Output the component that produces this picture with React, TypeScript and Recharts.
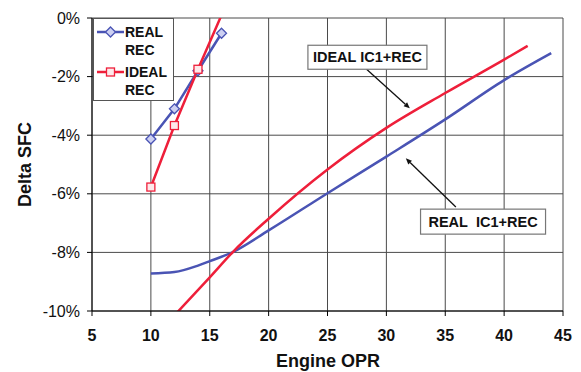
import React from 'react';
import {
  LineChart,
  Line,
  XAxis,
  YAxis,
  CartesianGrid,
  Legend,
  ReferenceLine,
  ReferenceDot,
} from 'recharts';

const FONT = '"Liberation Sans", Arial, Helvetica, sans-serif';
const BLUE = '#4A54B4';
const RED = '#EE1F3A';

// Axis ticks
const xTicks = [5, 10, 15, 20, 25, 30, 35, 40, 45];
const yTicks = [-10, -8, -6, -4, -2, 0];

// Legend order
const legendOrder = ['REAL REC', 'IDEAL REC'];

// Series: REAL REC
const realRecOPR = [10, 12, 14, 16];
const realRecSFC = [-4.13, -3.1, -1.8, -0.52];
// Series: IDEAL REC
const idealRecOPR = [10, 12, 14, 16];
const idealRecSFC = [-5.77, -3.67, -1.75, 0.1];
// Series: REAL IC1+REC
const realIc1OPR = [10, 12, 14, 15, 17, 20, 25, 30, 35, 40, 44];
const realIc1SFC = [-8.72, -8.67, -8.45, -8.3, -7.98, -7.25, -5.98, -4.73, -3.46, -2.12, -1.2];
// Series: IDEAL IC1+REC
const idealIc1OPR = [12, 15, 17, 20, 25, 30, 35, 40, 42];
const idealIc1SFC = [-10.15, -8.85, -7.97, -6.85, -5.17, -3.75, -2.56, -1.42, -0.95];

// Annotation texts and anchors (data coordinates)
const annotationTexts = ['IDEAL IC1+REC', 'REAL\u00a0\u00a0IC1+REC'];
const annotationBoxX = [28.39, 38.21];
const annotationBoxY = [-1.34, -6.95];
const arrowFromX = [28.32, 35.9];
const arrowFromY = [-1.75, -6.45];
const arrowToX = [31.99, 31.65];
const arrowToY = [-3.08, -4.79];

const toPts = (xs: number[], ys: number[]) => xs.map((x, i) => ({ x, y: ys[i] }));

const realRecData = toPts(realRecOPR, realRecSFC);
const idealRecData = toPts(idealRecOPR, idealRecSFC);
const realIc1Data = toPts(realIc1OPR, realIc1SFC);
const idealIc1Data = toPts(idealIc1OPR, idealIc1SFC);

const boxSizes = [
  { w: 119, h: 24 },
  { w: 125, h: 25 },
];

const DiamondDot = (p: any) => {
  const { cx, cy } = p;
  if (cx == null || cy == null) return <g />;
  const s = 5;
  return (
    <polygon
      points={`${cx},${cy - s} ${cx + s},${cy} ${cx},${cy + s} ${cx - s},${cy}`}
      fill="#cdd0f2"
      stroke={BLUE}
      strokeWidth={1.3}
    />
  );
};

const SquareDot = (p: any) => {
  const { cx, cy, payload } = p;
  if (cx == null || cy == null || (payload && payload.y > 0)) return <g />;
  const s = 4;
  return (
    <rect x={cx - s} y={cy - s} width={2 * s} height={2 * s} fill="#fde8ea" stroke={RED} strokeWidth={1.3} />
  );
};

const Arrow = (props: any) => {
  const { x1, y1, x2, y2 } = props;
  const ang = Math.atan2(y2 - y1, x2 - x1);
  const L = 6;
  const W = 2.6;
  const bx = x2 - L * Math.cos(ang);
  const by = y2 - L * Math.sin(ang);
  const px = -Math.sin(ang) * W;
  const py = Math.cos(ang) * W;
  return (
    <g>
      <line x1={x1} y1={y1} x2={bx} y2={by} stroke="#111" strokeWidth={1.3} />
      <polygon points={`${x2},${y2} ${bx + px},${by + py} ${bx - px},${by - py}`} fill="#111" />
    </g>
  );
};

const makeBox = (i: number) => (p: any) => {
  const { cx, cy } = p;
  const { w, h } = boxSizes[i];
  return (
    <g>
      <rect x={cx - w / 2} y={cy - h / 2} width={w} height={h} fill="#fff" stroke="#777" strokeWidth={1.2} />
      <text
        x={cx}
        y={cy}
        textAnchor="middle"
        dominantBaseline="central"
        fontFamily={FONT}
        fontWeight="bold"
        fontSize={14.5}
        fill="#111"
      >
        {annotationTexts[i]}
      </text>
    </g>
  );
};

const renderLegend = (props: any) => {
  const payload = props.payload || [];
  const entries = legendOrder
    .map((name) => payload.find((e: any) => e.value === name))
    .filter(Boolean);
  return (
    <div
      style={{
        width: 81,
        height: 83,
        boxSizing: 'border-box',
        border: '1px solid #555',
        background: '#fff',
      }}
    >
      <svg width={79} height={81} style={{ display: 'block' }}>
        {entries.map((entry: any, i: number) => {
          const ly = i === 0 ? 13 : 53;
          const words = String(entry.value).split(' ');
          const color = entry.color;
          return (
            <g key={entry.value}>
              <line x1={3} y1={ly} x2={30} y2={ly} stroke={color} strokeWidth={2.5} />
              {entry.value === 'REAL REC' ? (
                <polygon
                  points={`16.5,${ly - 5} 21.5,${ly} 16.5,${ly + 5} 11.5,${ly}`}
                  fill="#cdd0f2"
                  stroke={color}
                  strokeWidth={1.3}
                />
              ) : (
                <rect x={12.5} y={ly - 4} width={8} height={8} fill="#fde8ea" stroke={color} strokeWidth={1.3} />
              )}
              <text x={31} y={ly} dominantBaseline="central" fontFamily={FONT} fontWeight="bold" fontSize={14} fill="#111">
                {words[0]}
              </text>
              <text x={31} y={ly + 18} dominantBaseline="central" fontFamily={FONT} fontWeight="bold" fontSize={14} fill="#111">
                {words[1]}
              </text>
            </g>
          );
        })}
      </svg>
    </div>
  );
};

export default function App() {
  return (
    <div style={{ position: 'absolute', left: 0, top: 0, width: 581, height: 372, background: '#fff' }}>
      <LineChart width={581} height={372} margin={{ top: 18, right: 18, left: 0, bottom: 0 }}>
        <CartesianGrid stroke="#4a4a4a" strokeWidth={1} />
        <XAxis
          type="number"
          dataKey="x"
          domain={[5, 45]}
          ticks={xTicks}
          height={61}
          tickSize={5}
          tickMargin={14}
          axisLine={{ stroke: '#000', strokeWidth: 1 }}
          tickLine={{ stroke: '#000' }}
          tick={{ fontFamily: FONT, fontSize: 16, fontWeight: 'bold', fill: '#111' }}
          label={() => (
            <text x={328} y={367} textAnchor="middle" fontFamily={FONT} fontWeight="bold" fontSize={18} fill="#111">
              Engine OPR
            </text>
          )}
        />
        <YAxis
          type="number"
          domain={[-10, 0]}
          ticks={yTicks}
          allowDataOverflow
          width={92}
          tickSize={5}
          tickMargin={7}
          tickFormatter={(v: number) => `${v}%`}
          axisLine={{ stroke: '#000', strokeWidth: 1 }}
          tickLine={{ stroke: '#000' }}
          tick={{ fontFamily: FONT, fontSize: 16, fill: '#111' }}
          label={() => (
            <text
              x={25}
              y={164.5}
              transform="rotate(-90 25 164.5)"
              textAnchor="middle"
              dominantBaseline="central"
              fontFamily={FONT}
              fontWeight="bold"
              fontSize={18}
              fill="#111"
            >
              Delta SFC
            </text>
          )}
        />
        <Legend
          layout="vertical"
          align="center"
          verticalAlign="middle"
          width={81}
          height={83}
          wrapperStyle={{ left: 93, top: 18, width: 81, height: 83 }}
          content={renderLegend}
        />
        <Line
          data={realIc1Data}
          dataKey="y"
          name="REAL IC1+REC"
          type="monotone"
          stroke={BLUE}
          strokeWidth={2.5}
          dot={false}
          legendType="none"
          isAnimationActive={false}
        />
        <Line
          data={idealIc1Data}
          dataKey="y"
          name="IDEAL IC1+REC"
          type="monotone"
          stroke={RED}
          strokeWidth={2.5}
          dot={false}
          legendType="none"
          isAnimationActive={false}
        />
        <Line
          data={realRecData}
          dataKey="y"
          name="REAL REC"
          type="linear"
          stroke={BLUE}
          strokeWidth={2.5}
          dot={(p: any) => <DiamondDot {...p} key={`rd${p.index}`} />}
          isAnimationActive={false}
        />
        <Line
          data={idealRecData}
          dataKey="y"
          name="IDEAL REC"
          type="linear"
          stroke={RED}
          strokeWidth={2.5}
          dot={(p: any) => <SquareDot {...p} key={`id${p.index}`} />}
          isAnimationActive={false}
        />
        {annotationTexts.map((_, i) => (
          <ReferenceLine
            key={`arrow${i}`}
            segment={[
              { x: arrowFromX[i], y: arrowFromY[i] },
              { x: arrowToX[i], y: arrowToY[i] },
            ]}
            ifOverflow="visible"
            shape={Arrow}
          />
        ))}
        {annotationTexts.map((_, i) => (
          <ReferenceDot
            key={`box${i}`}
            x={annotationBoxX[i]}
            y={annotationBoxY[i]}
            r={1}
            ifOverflow="visible"
            shape={makeBox(i)}
          />
        ))}
      </LineChart>
    </div>
  );
}
